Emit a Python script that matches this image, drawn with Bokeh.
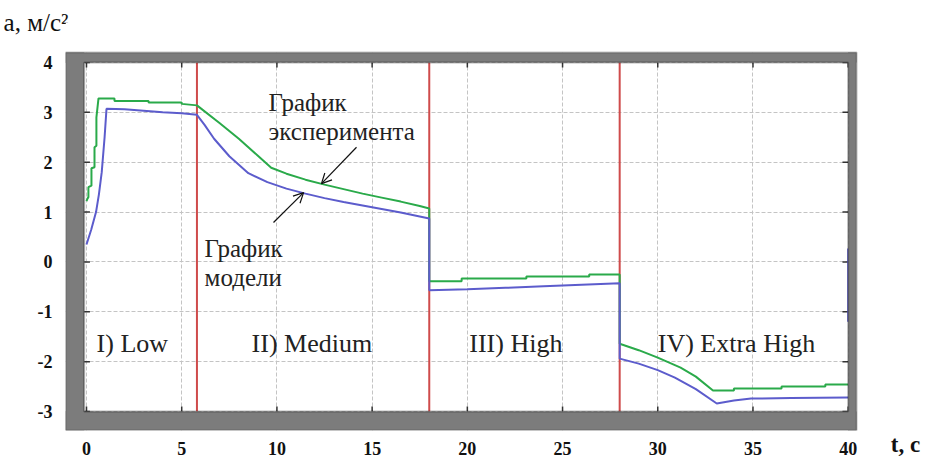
from bokeh.plotting import figure
from bokeh.models import BoxAnnotation, Arrow, OpenHead, FixedTicker, Range1d
from bokeh.core.properties import value
from bokeh.embed import file_html
from bokeh.resources import INLINE

# ---- data ----
x_ticks = [0, 5, 10, 15, 20, 25, 30, 35, 40]
y_ticks = [-3, -2, -1, 0, 1, 2, 3, 4]
stage_bounds = [5.8, 18, 28]
stage_names = ["I) Low", "II) Medium", "III) High", "IV) Extra High"]

exp_t = [0, 0.05, 0.1, 0.1, 0.26, 0.26, 0.42, 0.42, 0.52, 0.52, 0.63, 1.47, 1.47, 3.26, 3.26, 5.0, 5.0, 5.8,
         7.0, 8.0, 9.0, 9.7, 10.5, 11.5, 12.5, 13.5, 14.5, 15.5, 16.5, 17.5, 18.0,
         18.0, 19.7, 19.7, 23.1, 23.1, 26.4, 26.4, 28.0,
         28.0, 29.0, 30.0, 31.2, 32.0, 32.9, 34.0, 34.0, 36.5, 36.5, 38.8, 38.8, 40.0]
exp_a = [1.22, 1.27, 1.3, 1.5, 1.53, 1.88, 1.9, 2.3, 2.33, 2.9, 3.28, 3.28, 3.23, 3.23, 3.2, 3.2, 3.17, 3.14,
         2.78, 2.47, 2.13, 1.89, 1.77, 1.65, 1.55, 1.46, 1.37, 1.29, 1.21, 1.12, 1.07,
         -0.39, -0.39, -0.33, -0.33, -0.29, -0.29, -0.25, -0.25,
         -1.64, -1.77, -1.92, -2.12, -2.3, -2.58, -2.58, -2.54, -2.54, -2.5, -2.5, -2.46, -2.46]

mod_t = [0.0, 0.25, 0.5, 0.65, 0.8, 0.95, 1.05, 2.0, 3.0, 4.0, 5.0, 5.8,
         6.2, 6.7, 7.5, 8.5, 9.5, 10.5, 11.5, 12.5, 13.5, 14.5, 15.5, 16.5, 17.5, 18.0,
         18.0, 20.0, 22.0, 24.0, 26.0, 28.0,
         28.0, 29.0, 30.0, 30.9, 32.0, 33.1, 34.0, 34.9, 37.0, 40.0,
         float("nan"), 40.0, 40.0]
mod_a = [0.35, 0.65, 1.0, 1.35, 1.8, 2.5, 3.07, 3.06, 3.03, 3.0, 2.98, 2.95,
         2.75, 2.47, 2.12, 1.78, 1.6, 1.47, 1.37, 1.28, 1.2, 1.13, 1.06, 0.99, 0.91, 0.87,
         -0.57, -0.55, -0.52, -0.49, -0.46, -0.43,
         -1.94, -2.04, -2.17, -2.32, -2.55, -2.84, -2.78, -2.74, -2.73, -2.72,
         float("nan"), -1.2, 0.27]

y_title = "a, м/с²"
x_title = "t, c"

# ---- figure ----
XL, XG, XR = -1.103, 40.44, 43.01      # frame left, gray-box right, frame right
YB, YG, YT = -3.381, 4.2006, 4.8022    # frame bottom, gray-box top, frame top
IX0, IX1, IY0, IY1 = -0.12, 40.0, -3.0, 4.0

p = figure(frame_width=840, frame_height=408,
           x_range=Range1d(XL, XR), y_range=Range1d(YB, YT),
           output_backend="svg", toolbar_location=None,
           min_border_left=64, min_border_right=22, min_border_top=22, min_border_bottom=28,
           background_fill_color="white", border_fill_color="white")
p.outline_line_color = None

for ax, ticks in ((p.xaxis, x_ticks), (p.yaxis, y_ticks)):
    ax.ticker = FixedTicker(ticks=ticks)
    ax.axis_line_color = None
    ax.major_tick_line_color = None
    ax.minor_tick_line_color = None
    ax.major_label_text_font = "Liberation Serif"
    ax.major_label_text_font_style = "bold"
    ax.major_label_text_font_size = "18px"
    ax.major_label_text_color = "#111111"
p.xaxis.major_label_standoff = 5
p.yaxis.major_label_standoff = 7
p.yaxis.major_label_overrides = {t: ("-%d" % -t) for t in y_ticks if t < 0}

xa = p.xaxis[0]
ya = p.yaxis[0]
aligned = False
for al in ("end", "right"):
    try:
        xa.axis_label_align = al
        ya.axis_label_align = al
        aligned = True
        break
    except Exception:
        pass
if aligned:
    xa.axis_label = x_title
    xa.axis_label_text_font = "Liberation Serif"
    xa.axis_label_text_font_style = "bold"
    xa.axis_label_text_font_size = "23px"
    xa.axis_label_text_color = "#111111"
    xa.axis_label_standoff = -26
    ya.axis_label = y_title
    ya.axis_label_orientation = "horizontal"
    ya.axis_label_text_font = "Liberation Serif"
    ya.axis_label_text_font_style = "normal"
    ya.axis_label_text_font_size = "25px"
    ya.axis_label_text_color = "#111111"
    ya.axis_label_standoff = -34
else:
    xa.ticker = FixedTicker(ticks=x_ticks + [43.0])
    xa.major_label_overrides = {43.0: x_title}

p.xgrid.ticker = FixedTicker(ticks=x_ticks)
p.ygrid.ticker = FixedTicker(ticks=y_ticks)
for g in (p.xgrid, p.ygrid):
    g.grid_line_color = "#c4c4c4"
    g.grid_line_dash = "4 2"
    g.grid_line_width = 1

# stage boundaries
p.segment(x0=stage_bounds, y0=[IY0] * 3, x1=stage_bounds, y1=[IY1] * 3,
          line_color="#cf4b4b", line_width=2)

# small inner tick marks on the frame edges
nx, ny = len(x_ticks), len(y_ticks)
tick_col = "#333333"
p.segment(x0=x_ticks, y0=[IY1] * nx, x1=x_ticks, y1=[IY1 - 0.1] * nx, line_color=tick_col, line_width=1.5)
p.segment(x0=x_ticks, y0=[IY0] * nx, x1=x_ticks, y1=[IY0 + 0.1] * nx, line_color=tick_col, line_width=1.5)
p.segment(x0=[IX0] * ny, y0=y_ticks, x1=[IX0 + 0.3] * ny, y1=y_ticks, line_color=tick_col, line_width=1.5)
p.segment(x0=[IX1] * ny, y0=y_ticks, x1=[IX1 - 0.3] * ny, y1=y_ticks, line_color=tick_col, line_width=1.5)

# curves
p.line(exp_t, exp_a, line_color="#2aaa4a", line_width=2)
p.line(mod_t, mod_a, line_color="#5c5ccc", line_width=2)

# white areas outside the box, gray frame bands, frame lines
p.add_layout(BoxAnnotation(left=XG, right=XR, bottom=YB, top=YT, fill_color="white", fill_alpha=1, line_color=None))
p.add_layout(BoxAnnotation(left=XL, right=XR, bottom=YG, top=YT, fill_color="white", fill_alpha=1, line_color=None))
gray = "#7c7c7c"
p.add_layout(BoxAnnotation(left=XL, right=IX0, bottom=YB, top=YG, fill_color=gray, fill_alpha=1, line_color=None))
p.add_layout(BoxAnnotation(left=IX1, right=XG, bottom=YB, top=YG, fill_color=gray, fill_alpha=1, line_color=None))
p.add_layout(BoxAnnotation(left=XL, right=XG, bottom=IY1, top=YG, fill_color=gray, fill_alpha=1, line_color=None))
p.add_layout(BoxAnnotation(left=XL, right=XG, bottom=YB, top=IY0, fill_color=gray, fill_alpha=1, line_color=None))
p.add_layout(BoxAnnotation(left=IX0, right=IX1, bottom=IY0, top=IY1, fill_alpha=0,
                           line_color="#111111", line_width=2))
p.add_layout(BoxAnnotation(left=XL, right=XG, bottom=YB, top=YG, fill_alpha=0,
                           line_color="#3c3c3c", line_width=2))

# stage labels
p.text(x=[0.53, 8.67, 20.1, 30.0], y=[-1.64] * 4, text=stage_names,
       text_font=value("Liberation Serif"), text_font_size="26px",
       text_color="#222222", text_baseline="alphabetic", text_align="left")

# annotations
p.text(x=[9.56, 9.56, 6.2, 6.2], y=[3.2, 2.62, 0.27, -0.31],
       text=["График", "эксперимента", "График", "модели"],
       text_font=value("Liberation Serif"), text_font_size="25px",
       text_color="#222222", text_baseline="alphabetic", text_align="left")

p.add_layout(Arrow(end=OpenHead(size=10, line_color="#111111", line_width=1.2),
                   x_start=14.18, y_start=2.30, x_end=12.34, y_end=1.57,
                   line_color="#111111", line_width=1.2))
p.add_layout(Arrow(end=OpenHead(size=10, line_color="#111111", line_width=1.2),
                   x_start=9.82, y_start=0.79, x_end=11.4, y_end=1.39,
                   line_color="#111111", line_width=1.2))

open("out.html", "w").write(file_html(p, INLINE))
